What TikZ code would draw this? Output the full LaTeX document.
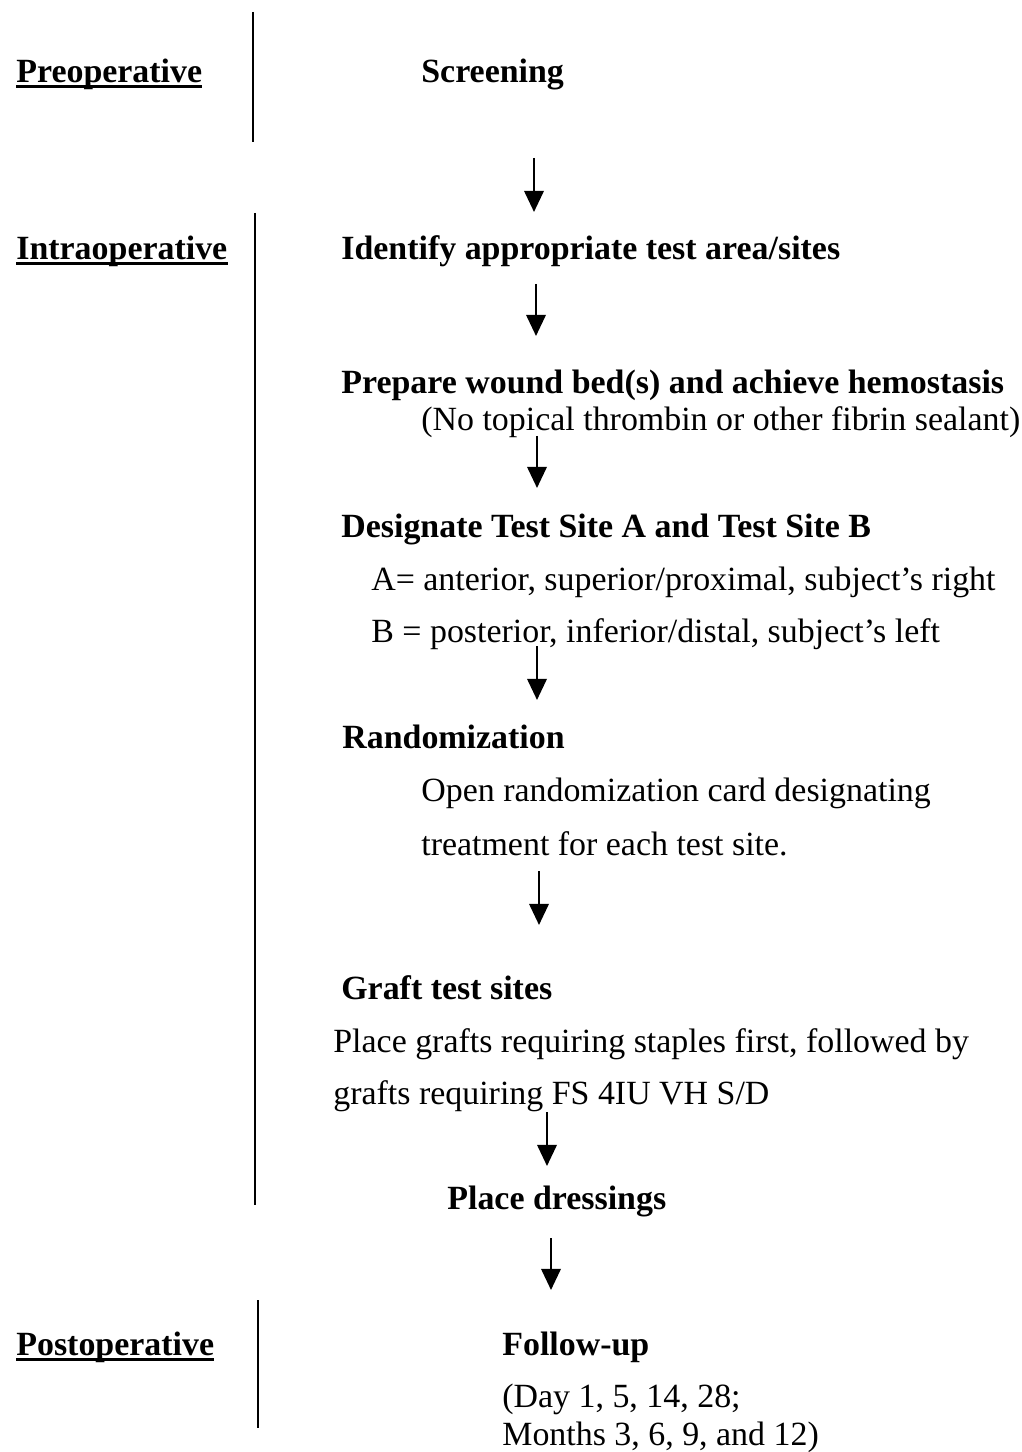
\documentclass[tikz,border=0pt]{standalone}
\usepackage{fontspec}
\setmainfont{Liberation Serif}
\usetikzlibrary{arrows.meta}

\begin{document}
\begin{tikzpicture}[x=0.02cm, y=-0.02cm, font=\fontsize{19.3}{23}\selectfont]
	\tikzset{txt/.style={anchor=west, inner sep=0pt, text height=0.7em, text depth=0.2em, yshift=-0.13cm},
		note/.style={txt},
		phase/.style={txt, font=\fontsize{19.3}{23}\selectfont\bfseries},
		head/.style={txt, font=\fontsize{19.3}{23}\selectfont\bfseries},
		flow/.style={-{Triangle[length=12pt, width=11pt]}, line width=1.4pt},
		uline/.style={line width=1.6pt},
		divider/.style={line width=0.9pt}}
	\useasboundingbox (0,0) rectangle (1021,1452);

	% phases
	\node (Pre) [phase] at (16,72) {Preoperative};
	\node (Intra) [phase] at (16,249) {Intraoperative};
	\node (Post) [phase] at (16,1345) {Postoperative};
	\foreach \p in {Pre,Intra,Post}
		\draw [uline] (\p.south west) -- (\p.south east);
	\draw [divider] (253,12) -- (253,142);
	\draw [divider] (255,213) -- (255,1205);
	\draw [divider] (258,1300) -- (258,1428);

	% steps
	\node (Screen) [head] at (421,72) {Screening};
	\node (Ident) [head] at (341,249) {Identify appropriate test area/sites};
	\node (Prep) [head] at (341,383) {Prepare wound bed(s) and achieve hemostasis};
	\node (PrepNote) [note] at (421,420) {(No topical thrombin or other fibrin sealant)};
	\node (Desig) [head] at (341,527) {Designate Test Site A and Test Site B};
	\node (SiteA) [note] at (371,580) {A= anterior, superior/proximal, subject's right};
	\node (SiteB) [note] at (371,632) {B = posterior, inferior/distal, subject's left};
	\node (Rand) [head] at (342,738) {Randomization};
	\node (RandA) [note] at (421,791) {Open randomization card designating};
	\node (RandB) [note] at (421,845) {treatment for each test site.};
	\node (Graft) [head] at (341,989) {Graft test sites};
	\node (GraftA) [note] at (333,1042) {Place grafts requiring staples first, followed by};
	\node (GraftB) [note] at (333,1094) {grafts requiring FS 4IU VH S/D};
	\node (Dress) [head] at (447,1199) {Place dressings};
	\node (Follow) [head] at (502,1345) {Follow-up};
	\node (FollowA) [note] at (502,1397) {(Day 1, 5, 14, 28;};
	\node (FollowB) [note] at (502,1435) {Months 3, 6, 9, and 12)};

	% arrows
	\coordinate (s1) at (534,158); \coordinate (e1) at (534,212);
	\coordinate (s2) at (536,284); \coordinate (e2) at (536,336);
	\coordinate (s3) at (537,436); \coordinate (e3) at (537,488);
	\coordinate (s4) at (537,646); \coordinate (e4) at (537,700);
	\coordinate (s5) at (539,871); \coordinate (e5) at (539,925);
	\coordinate (s6) at (547,1112); \coordinate (e6) at (547,1166);
	\coordinate (s7) at (551,1238); \coordinate (e7) at (551,1290);
	\foreach \i in {1,...,7}
		\draw [flow] (s\i) -- (e\i);
\end{tikzpicture}
\end{document}
